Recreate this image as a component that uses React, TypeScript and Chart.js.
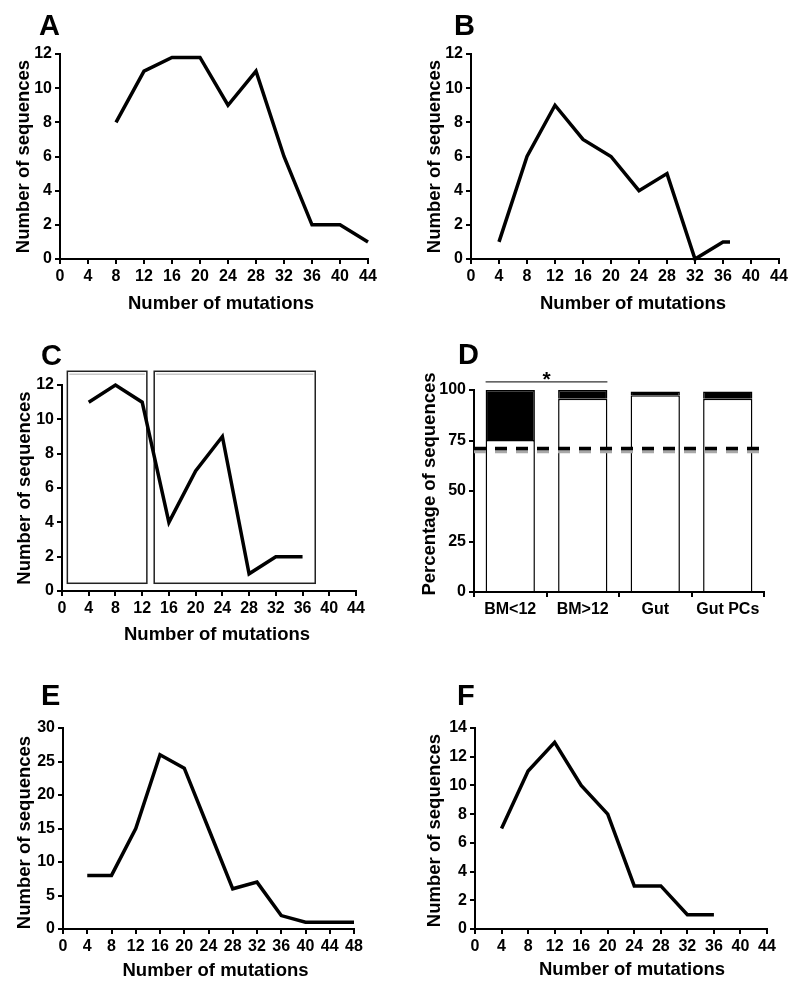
import React, { useEffect, useRef } from "react";
import { Chart, registerables } from "chart.js";

Chart.register(...registerables);

const FONT = '"Liberation Sans", Arial, Helvetica, sans-serif';
Chart.defaults.font.family = FONT;

// ---------- Data ----------
// Panel A
const mutationsA = [8, 12, 16, 20, 24, 28, 32, 36, 40, 44];
const sequencesA = [8, 11, 11.8, 11.8, 9, 11, 6, 2, 2, 1];
// Panel B
const mutationsB = [4, 8, 12, 16, 20, 24, 28, 32, 36, 37];
const sequencesB = [1, 6, 9, 7, 6, 4, 5, 0, 1, 1];
// Panel C
const mutationsC = [4, 8, 12, 16, 20, 24, 28, 32, 36];
const sequencesC = [11, 12, 11, 4, 7, 9, 1, 2, 2];
const boxStartC = [0.8, 13.8];
const boxEndC = [12.7, 37.9];
const boxBottomC = 0.45;
const boxTopC = 12.8;
// Panel D
const groupsD = ["BM<12", "BM>12", "Gut", "Gut PCs"];
const lowerD = [75.2, 95.7, 97.4, 95.7];
const upperD = [24.8, 4.3, 1.9, 3.5];
const thresholdD = 71;
const bracketGroupsD = [0, 1];
const bracketLevelD = 104;
const bracketLabelD = "*";
// Panel E
const mutationsE = [4, 8, 12, 16, 20, 24, 28, 32, 36, 40, 44, 48];
const sequencesE = [8, 8, 15, 26, 24, 15, 6, 7, 2, 1, 1, 1];
// Panel F
const mutationsF = [4, 8, 12, 16, 20, 24, 28, 32, 36];
const sequencesF = [7, 11, 13, 10, 8, 3, 3, 1, 1];

const X_TITLE = "Number of mutations";
const Y_TITLE = "Number of sequences";
const Y_TITLE_D = "Percentage of sequences";

// ---------- Layout ----------
type Rect = { x: number; y: number; w: number; h: number };
type Area = { x0: number; x1: number; y0: number; y1: number };

const Y_W = 40;
const X_H = 25;

const axisStyle = (size = 16) => ({
  grid: {
    display: true,
    drawOnChartArea: false,
    drawTicks: true,
    tickLength: 5,
    tickWidth: 2,
    tickColor: "#000",
    color: "#000",
    lineWidth: 2,
  },
  border: { display: true, color: "#000", width: 2 },
  ticks: {
    color: "#000",
    font: { family: FONT, size, weight: "bold" as const },
    padding: 3,
    autoSkip: false,
    maxRotation: 0,
    minRotation: 0,
  },
});

const decoPlugin = {
  id: "deco",
  afterDraw(chart: any, _args: any, opts: any) {
    const ctx = chart.ctx;
    const a = chart.chartArea;
    ctx.save();
    ctx.fillStyle = "#000";
    ctx.font = `bold 29px ${FONT}`;
    ctx.textAlign = "left";
    ctx.textBaseline = "alphabetic";
    ctx.fillText(opts.letter, opts.letterX, opts.letterY);
    ctx.font = `bold 18.5px ${FONT}`;
    ctx.textAlign = "center";
    if (opts.xTitle) {
      ctx.fillText(opts.xTitle, (a.left + a.right) / 2 + opts.xDx, a.bottom + opts.xDy);
    }
    ctx.translate(a.left - opts.yDx, (a.top + a.bottom) / 2 + (opts.yDy || 0));
    ctx.rotate(-Math.PI / 2);
    ctx.textBaseline = "middle";
    ctx.fillText(opts.yTitle, 0, 0);
    ctx.restore();
  },
};

const boxesPlugin = {
  id: "boxes",
  beforeDatasetsDraw(chart: any, _args: any, opts: any) {
    if (!opts || !opts.starts) return;
    const ctx = chart.ctx;
    const xs = chart.scales.x;
    const ys = chart.scales.y;
    ctx.save();
    opts.starts.forEach((s: number, i: number) => {
      const l = xs.getPixelForValue(s);
      const r = xs.getPixelForValue(opts.ends[i]);
      const t = ys.getPixelForValue(opts.top);
      const b = ys.getPixelForValue(opts.bottom);
      ctx.strokeStyle = "#c8c8c8";
      ctx.lineWidth = 1.5;
      ctx.beginPath();
      ctx.moveTo(l + 2, t + 3);
      ctx.lineTo(r - 2, t + 3);
      ctx.stroke();
      ctx.strokeStyle = "#222";
      ctx.lineWidth = 1.5;
      ctx.strokeRect(l, t, r - l, b - t);
    });
    ctx.restore();
  },
};

const barDecoPlugin = {
  id: "barDeco",
  afterDatasetsDraw(chart: any, _args: any, opts: any) {
    if (!opts || opts.threshold === undefined) return;
    const ctx = chart.ctx;
    const a = chart.chartArea;
    const ys = chart.scales.y;
    const yT = ys.getPixelForValue(opts.threshold);
    ctx.save();
    ctx.setLineDash([12, 9]);
    ctx.lineWidth = 3.5;
    ctx.strokeStyle = "#a8a8a8";
    ctx.beginPath();
    ctx.moveTo(a.left, yT + 3);
    ctx.lineTo(a.right + 3, yT + 3);
    ctx.stroke();
    ctx.strokeStyle = "#000";
    ctx.beginPath();
    ctx.moveTo(a.left, yT);
    ctx.lineTo(a.right + 3, yT);
    ctx.stroke();
    ctx.setLineDash([]);
    // significance bracket
    const meta = chart.getDatasetMeta(0);
    const b0 = meta.data[opts.groups[0]];
    const b1 = meta.data[opts.groups[1]];
    const left = b0.x - b0.width / 2;
    const right = b1.x + b1.width / 2;
    const yB = ys.getPixelForValue(opts.level);
    ctx.strokeStyle = "#333";
    ctx.lineWidth = 1.2;
    ctx.beginPath();
    ctx.moveTo(left, yB);
    ctx.lineTo(right, yB);
    ctx.stroke();
    ctx.fillStyle = "#000";
    ctx.font = `bold 21px ${FONT}`;
    ctx.textAlign = "center";
    ctx.textBaseline = "alphabetic";
    ctx.fillText(opts.label, (left + right) / 2, yB + 4);
    ctx.restore();
  },
};

function layoutPadding(cell: Rect, area: Area) {
  return {
    left: area.x0 - cell.x - Y_W,
    right: cell.x + cell.w - area.x1,
    top: area.y0 - cell.y,
    bottom: cell.y + cell.h - area.y1 - X_H,
  };
}

function lineConfig(
  cell: Rect,
  area: Area,
  xs: number[],
  ys: number[],
  xMax: number,
  yMax: number,
  yStep: number,
  deco: any,
  boxes?: any,
  tickSize = 16
) {
  return {
    type: "line",
    data: {
      datasets: [
        {
          data: xs.map((x, i) => ({ x, y: ys[i] })),
          borderColor: "#000",
          borderWidth: 3.5,
          pointRadius: 0,
          tension: 0,
          fill: false,
          clip: false,
          borderJoinStyle: "miter",
          borderCapStyle: "butt",
        },
      ],
    },
    options: {
      responsive: false,
      animation: false,
      devicePixelRatio: 1,
      layout: { padding: layoutPadding(cell, area) },
      plugins: {
        legend: { display: false },
        tooltip: { enabled: false },
        deco,
        boxes: boxes || {},
      },
      scales: {
        x: {
          type: "linear",
          min: 0,
          max: xMax,
          ...axisStyle(tickSize),
          ticks: { ...axisStyle(tickSize).ticks, stepSize: 4 },
          afterFit: (s: any) => {
            s.height = X_H;
          },
        },
        y: {
          type: "linear",
          min: 0,
          max: yMax,
          ...axisStyle(tickSize),
          ticks: { ...axisStyle(tickSize).ticks, stepSize: yStep },
          afterFit: (s: any) => {
            s.width = Y_W;
          },
        },
      },
    },
    plugins: [decoPlugin, boxesPlugin],
  };
}

function barConfig(cell: Rect, area: Area, deco: any) {
  return {
    type: "bar",
    data: {
      labels: groupsD,
      datasets: [
        {
          data: lowerD,
          backgroundColor: "#fff",
          borderColor: "#000",
          borderWidth: 1.5,
          categoryPercentage: 1,
          barPercentage: 0.68,
        },
        {
          data: upperD,
          backgroundColor: "#000",
          borderColor: "#000",
          borderWidth: 1.5,
          categoryPercentage: 1,
          barPercentage: 0.68,
        },
      ],
    },
    options: {
      responsive: false,
      animation: false,
      devicePixelRatio: 1,
      layout: { padding: layoutPadding(cell, area) },
      plugins: {
        legend: { display: false },
        tooltip: { enabled: false },
        deco,
        barDeco: {
          threshold: thresholdD,
          groups: bracketGroupsD,
          level: bracketLevelD,
          label: bracketLabelD,
        },
      },
      scales: {
        x: {
          type: "category",
          stacked: true,
          offset: true,
          ...axisStyle(16),
          afterFit: (s: any) => {
            s.height = X_H;
          },
        },
        y: {
          type: "linear",
          stacked: true,
          min: 0,
          max: 100,
          ...axisStyle(16),
          ticks: { ...axisStyle(16).ticks, stepSize: 25 },
          afterFit: (s: any) => {
            s.width = Y_W;
          },
        },
      },
    },
    plugins: [decoPlugin, barDecoPlugin],
  };
}

function Panel({ cell, make }: { cell: Rect; make: () => any }) {
  const ref = useRef<HTMLCanvasElement | null>(null);
  useEffect(() => {
    if (!ref.current) return;
    const chart = new Chart(ref.current, make());
    return () => chart.destroy();
  }, []);
  return (
    <canvas
      ref={ref}
      width={cell.w}
      height={cell.h}
      style={{
        position: "absolute",
        left: cell.x,
        top: cell.y,
        width: cell.w,
        height: cell.h,
      }}
    />
  );
}

const cellA: Rect = { x: 0, y: 0, w: 400, h: 320 };
const cellB: Rect = { x: 400, y: 0, w: 400, h: 320 };
const cellC: Rect = { x: 0, y: 320, w: 400, h: 330 };
const cellD: Rect = { x: 400, y: 320, w: 400, h: 330 };
const cellE: Rect = { x: 0, y: 650, w: 400, h: 339 };
const cellF: Rect = { x: 400, y: 650, w: 400, h: 339 };

const areaA: Area = { x0: 60, x1: 368, y0: 54, y1: 259 };
const areaB: Area = { x0: 471, x1: 779, y0: 54, y1: 259 };
const areaC: Area = { x0: 62, x1: 356, y0: 385, y1: 591 };
const areaD: Area = { x0: 474, x1: 764, y0: 390, y1: 592 };
const areaE: Area = { x0: 63, x1: 354, y0: 728, y1: 929 };
const areaF: Area = { x0: 475, x1: 767, y0: 728, y1: 929 };

export default function App() {
  return (
    <div
      style={{
        position: "absolute",
        left: 0,
        top: 0,
        width: 800,
        height: 989,
        background: "#fff",
        overflow: "hidden",
      }}
    >
      <Panel
        cell={cellA}
        make={() =>
          lineConfig(cellA, areaA, mutationsA, sequencesA, 44, 12, 2, {
            letter: "A", letterX: 39, letterY: 35,
            xTitle: X_TITLE, xDx: 7, xDy: 50,
            yTitle: Y_TITLE, yDx: 36, yDy: 0,
          })
        }
      />
      <Panel
        cell={cellB}
        make={() =>
          lineConfig(cellB, areaB, mutationsB, sequencesB, 44, 12, 2, {
            letter: "B", letterX: 54, letterY: 35,
            xTitle: X_TITLE, xDx: 8, xDy: 50,
            yTitle: Y_TITLE, yDx: 36, yDy: 0,
          })
        }
      />
      <Panel
        cell={cellC}
        make={() =>
          lineConfig(
            cellC, areaC, mutationsC, sequencesC, 44, 12, 2,
            {
              letter: "C", letterX: 41, letterY: 45,
              xTitle: X_TITLE, xDx: 8, xDy: 49,
              yTitle: Y_TITLE, yDx: 37, yDy: 0,
            },
            { starts: boxStartC, ends: boxEndC, top: boxTopC, bottom: boxBottomC }
          )
        }
      />
      <Panel
        cell={cellD}
        make={() =>
          barConfig(cellD, areaD, {
            letter: "D", letterX: 58, letterY: 44,
            xTitle: "", xDx: 0, xDy: 0,
            yTitle: Y_TITLE_D, yDx: 44, yDy: -7,
          })
        }
      />
      <Panel
        cell={cellE}
        make={() =>
          lineConfig(cellE, areaE, mutationsE, sequencesE, 48, 30, 5, {
            letter: "E", letterX: 41, letterY: 55,
            xTitle: X_TITLE, xDx: 7, xDy: 47,
            yTitle: Y_TITLE, yDx: 38, yDy: 4,
          })
        }
      />
      <Panel
        cell={cellF}
        make={() =>
          lineConfig(cellF, areaF, mutationsF, sequencesF, 44, 14, 2, {
            letter: "F", letterX: 57, letterY: 55,
            xTitle: X_TITLE, xDx: 11, xDy: 46,
            yTitle: Y_TITLE, yDx: 40, yDy: 2,
          })
        }
      />
    </div>
  );
}
